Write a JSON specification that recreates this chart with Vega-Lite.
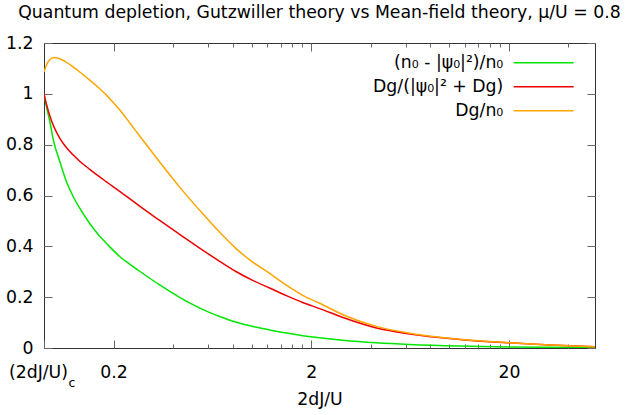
{
  "$schema": "https://vega.github.io/schema/vega-lite/v6.json",
  "width": 551,
  "height": 305,
  "autosize": {"type": "none"},
  "padding": {"left": 44, "top": 43, "right": 33, "bottom": 67},
  "title": {"text": "Quantum depletion, Gutzwiller theory vs Mean-field theory, μ/U = 0.8", "font": "DejaVu Sans", "fontSize": 17.3, "fontWeight": "normal", "anchor": "middle", "offset": 13, "color": "#000"},
  "config": {
    "view": {"stroke": "#333", "strokeWidth": 1},
    "font": "DejaVu Sans",
    "axis": {"domain": false, "grid": false, "labelFont": "DejaVu Sans", "labelFontSize": 17.3, "labelColor": "#000", "titleFont": "DejaVu Sans", "titleFontSize": 17.3, "titleFontWeight": "normal", "titleColor": "#000", "tickColor": "#666", "tickWidth": 1, "labelFlush": false, "labelOverlap": false, "labelBound": false}
  },
  "datasets": {
    "curves": [
      {"x": 0.0889, "y": 1.0, "s": "(n₀ - |ψ₀|²)/n₀"},
      {"x": 0.09178, "y": 0.945, "s": "(n₀ - |ψ₀|²)/n₀"},
      {"x": 0.09502, "y": 0.893, "s": "(n₀ - |ψ₀|²)/n₀"},
      {"x": 0.09956, "y": 0.812, "s": "(n₀ - |ψ₀|²)/n₀"},
      {"x": 0.10676, "y": 0.735, "s": "(n₀ - |ψ₀|²)/n₀"},
      {"x": 0.1145, "y": 0.662, "s": "(n₀ - |ψ₀|²)/n₀"},
      {"x": 0.12466, "y": 0.597, "s": "(n₀ - |ψ₀|²)/n₀"},
      {"x": 0.13478, "y": 0.55, "s": "(n₀ - |ψ₀|²)/n₀"},
      {"x": 0.15145, "y": 0.49, "s": "(n₀ - |ψ₀|²)/n₀"},
      {"x": 0.1701, "y": 0.44, "s": "(n₀ - |ψ₀|²)/n₀"},
      {"x": 0.18392, "y": 0.412, "s": "(n₀ - |ψ₀|²)/n₀"},
      {"x": 0.19861, "y": 0.385, "s": "(n₀ - |ψ₀|²)/n₀"},
      {"x": 0.2147, "y": 0.36, "s": "(n₀ - |ψ₀|²)/n₀"},
      {"x": 0.24124, "y": 0.33, "s": "(n₀ - |ψ₀|²)/n₀"},
      {"x": 0.27102, "y": 0.302, "s": "(n₀ - |ψ₀|²)/n₀"},
      {"x": 0.3421, "y": 0.248, "s": "(n₀ - |ψ₀|²)/n₀"},
      {"x": 0.43182, "y": 0.199, "s": "(n₀ - |ψ₀|²)/n₀"},
      {"x": 0.5665, "y": 0.151, "s": "(n₀ - |ψ₀|²)/n₀"},
      {"x": 0.68831, "y": 0.124, "s": "(n₀ - |ψ₀|²)/n₀"},
      {"x": 0.836, "y": 0.101, "s": "(n₀ - |ψ₀|²)/n₀"},
      {"x": 1.0107, "y": 0.085, "s": "(n₀ - |ψ₀|²)/n₀"},
      {"x": 1.2318, "y": 0.0712, "s": "(n₀ - |ψ₀|²)/n₀"},
      {"x": 1.4967, "y": 0.0588, "s": "(n₀ - |ψ₀|²)/n₀"},
      {"x": 1.8094, "y": 0.0486, "s": "(n₀ - |ψ₀|²)/n₀"},
      {"x": 2.2058, "y": 0.0399, "s": "(n₀ - |ψ₀|²)/n₀"},
      {"x": 2.8929, "y": 0.0304, "s": "(n₀ - |ψ₀|²)/n₀"},
      {"x": 4.2686, "y": 0.0206, "s": "(n₀ - |ψ₀|²)/n₀"},
      {"x": 6.2909, "y": 0.014, "s": "(n₀ - |ψ₀|²)/n₀"},
      {"x": 11.263, "y": 0.0078, "s": "(n₀ - |ψ₀|²)/n₀"},
      {"x": 19.93, "y": 0.0044, "s": "(n₀ - |ψ₀|²)/n₀"},
      {"x": 32.13, "y": 0.0027, "s": "(n₀ - |ψ₀|²)/n₀"},
      {"x": 54.46, "y": 0.0016, "s": "(n₀ - |ψ₀|²)/n₀"},
      {"x": 0.0889, "y": 1.0, "s": "Dg/(|ψ₀|² + Dg)"},
      {"x": 0.09178, "y": 0.955, "s": "Dg/(|ψ₀|² + Dg)"},
      {"x": 0.09502, "y": 0.915, "s": "Dg/(|ψ₀|² + Dg)"},
      {"x": 0.09956, "y": 0.872, "s": "Dg/(|ψ₀|² + Dg)"},
      {"x": 0.10676, "y": 0.826, "s": "Dg/(|ψ₀|² + Dg)"},
      {"x": 0.1145, "y": 0.792, "s": "Dg/(|ψ₀|² + Dg)"},
      {"x": 0.12466, "y": 0.76, "s": "Dg/(|ψ₀|² + Dg)"},
      {"x": 0.13478, "y": 0.735, "s": "Dg/(|ψ₀|² + Dg)"},
      {"x": 0.15145, "y": 0.703, "s": "Dg/(|ψ₀|² + Dg)"},
      {"x": 0.1701, "y": 0.673, "s": "Dg/(|ψ₀|² + Dg)"},
      {"x": 0.18392, "y": 0.654, "s": "Dg/(|ψ₀|² + Dg)"},
      {"x": 0.19861, "y": 0.635, "s": "Dg/(|ψ₀|² + Dg)"},
      {"x": 0.2147, "y": 0.616, "s": "Dg/(|ψ₀|² + Dg)"},
      {"x": 0.24124, "y": 0.588, "s": "Dg/(|ψ₀|² + Dg)"},
      {"x": 0.27102, "y": 0.558, "s": "Dg/(|ψ₀|² + Dg)"},
      {"x": 0.3421, "y": 0.502, "s": "Dg/(|ψ₀|² + Dg)"},
      {"x": 0.43182, "y": 0.447, "s": "Dg/(|ψ₀|² + Dg)"},
      {"x": 0.5665, "y": 0.384, "s": "Dg/(|ψ₀|² + Dg)"},
      {"x": 0.68831, "y": 0.341, "s": "Dg/(|ψ₀|² + Dg)"},
      {"x": 0.836, "y": 0.3, "s": "Dg/(|ψ₀|² + Dg)"},
      {"x": 1.0107, "y": 0.266, "s": "Dg/(|ψ₀|² + Dg)"},
      {"x": 1.2318, "y": 0.236, "s": "Dg/(|ψ₀|² + Dg)"},
      {"x": 1.4967, "y": 0.206, "s": "Dg/(|ψ₀|² + Dg)"},
      {"x": 1.8094, "y": 0.179, "s": "Dg/(|ψ₀|² + Dg)"},
      {"x": 2.2058, "y": 0.155, "s": "Dg/(|ψ₀|² + Dg)"},
      {"x": 2.8929, "y": 0.12, "s": "Dg/(|ψ₀|² + Dg)"},
      {"x": 4.2686, "y": 0.079, "s": "Dg/(|ψ₀|² + Dg)"},
      {"x": 6.2909, "y": 0.0555, "s": "Dg/(|ψ₀|² + Dg)"},
      {"x": 11.263, "y": 0.0336, "s": "Dg/(|ψ₀|² + Dg)"},
      {"x": 19.93, "y": 0.0204, "s": "Dg/(|ψ₀|² + Dg)"},
      {"x": 32.13, "y": 0.0118, "s": "Dg/(|ψ₀|² + Dg)"},
      {"x": 54.46, "y": 0.0051, "s": "Dg/(|ψ₀|² + Dg)"},
      {"x": 0.0889, "y": 1.086, "s": "Dg/n₀"},
      {"x": 0.09178, "y": 1.116, "s": "Dg/n₀"},
      {"x": 0.09502, "y": 1.134, "s": "Dg/n₀"},
      {"x": 0.09956, "y": 1.143, "s": "Dg/n₀"},
      {"x": 0.10676, "y": 1.138, "s": "Dg/n₀"},
      {"x": 0.1145, "y": 1.126, "s": "Dg/n₀"},
      {"x": 0.12466, "y": 1.106, "s": "Dg/n₀"},
      {"x": 0.13478, "y": 1.086, "s": "Dg/n₀"},
      {"x": 0.15145, "y": 1.054, "s": "Dg/n₀"},
      {"x": 0.1701, "y": 1.02, "s": "Dg/n₀"},
      {"x": 0.18392, "y": 0.995, "s": "Dg/n₀"},
      {"x": 0.19861, "y": 0.967, "s": "Dg/n₀"},
      {"x": 0.2147, "y": 0.937, "s": "Dg/n₀"},
      {"x": 0.24124, "y": 0.886, "s": "Dg/n₀"},
      {"x": 0.27102, "y": 0.834, "s": "Dg/n₀"},
      {"x": 0.3421, "y": 0.732, "s": "Dg/n₀"},
      {"x": 0.43182, "y": 0.633, "s": "Dg/n₀"},
      {"x": 0.5665, "y": 0.527, "s": "Dg/n₀"},
      {"x": 0.68831, "y": 0.455, "s": "Dg/n₀"},
      {"x": 0.836, "y": 0.39, "s": "Dg/n₀"},
      {"x": 1.0107, "y": 0.338, "s": "Dg/n₀"},
      {"x": 1.2318, "y": 0.294, "s": "Dg/n₀"},
      {"x": 1.4967, "y": 0.247, "s": "Dg/n₀"},
      {"x": 1.8094, "y": 0.207, "s": "Dg/n₀"},
      {"x": 2.2058, "y": 0.176, "s": "Dg/n₀"},
      {"x": 2.8929, "y": 0.131, "s": "Dg/n₀"},
      {"x": 4.2686, "y": 0.085, "s": "Dg/n₀"},
      {"x": 6.2909, "y": 0.058, "s": "Dg/n₀"},
      {"x": 11.263, "y": 0.034, "s": "Dg/n₀"},
      {"x": 19.93, "y": 0.0208, "s": "Dg/n₀"},
      {"x": 32.13, "y": 0.0118, "s": "Dg/n₀"},
      {"x": 54.46, "y": 0.0051, "s": "Dg/n₀"}
    ],
    "sub": [{"x": 0.0889, "t": "c"}]
  },
  "layer": [
    {
      "data": {"name": "curves"},
      "mark": {"type": "line", "strokeWidth": 1.5, "interpolate": "monotone", "clip": true},
      "encoding": {
        "x": {"field": "x", "type": "quantitative",
              "scale": {"type": "log", "domain": [0.0889, 54.5], "nice": false},
              "axis": {"orient": "bottom", "title": "2dJ/U", "titlePadding": 6,
                       "values": [0.0889, 0.2, 0.4, 0.6, 0.8, 1, 1.2, 1.4, 1.6, 1.8, 2, 4, 6, 8, 10, 12, 14, 16, 18, 20, 40],
                       "labelExpr": "datum.value < 0.1 ? '(2dJ/U)' : datum.value == 0.2 ? '0.2' : datum.value == 2 ? '2' : datum.value == 20 ? '20' : ''",
                       "tickSize": {"condition": {"test": "datum.value < 0.1 || datum.value == 0.2 || datum.value == 2 || datum.value == 20", "value": -8}, "value": -4},
                       "labelOffset": {"condition": {"test": "datum.value < 0.1", "value": -6}, "value": 0},
                       "labelPadding": 23}},
        "y": {"field": "y", "type": "quantitative",
              "scale": {"domain": [0, 1.2], "nice": false},
              "axis": {"orient": "left", "title": null, "values": [0, 0.2, 0.4, 0.6, 0.8, 1, 1.2], "format": "~g", "tickSize": -8, "labelPadding": 19}},
        "color": {"field": "s", "type": "nominal",
                  "scale": {"domain": ["(n₀ - |ψ₀|²)/n₀", "Dg/(|ψ₀|² + Dg)", "Dg/n₀"], "range": ["#00e600", "#f00000", "#ffa500"]},
                  "legend": {"title": null, "orient": "none", "legendX": 491, "legendY": 11, "padding": 0,
                             "symbolType": "M-4,0H4", "symbolSize": 225, "symbolStrokeWidth": 1.5,
                             "rowPadding": 6, "labelAlign": "right", "labelOffset": -49, "labelLimit": 0,
                             "labelFont": "DejaVu Sans", "labelFontSize": 17.3, "labelColor": "#000"}}
      }
    },
    {
      "data": {"name": "sub"},
      "mark": {"type": "text", "font": "DejaVu Sans", "fontSize": 12.5, "dx": 28, "dy": 35, "align": "center", "baseline": "middle", "color": "#000", "clip": false},
      "encoding": {
        "x": {"field": "x", "type": "quantitative",
              "axis": {"orient": "top", "title": null, "labels": false,
                       "values": [0.2, 0.4, 0.6, 0.8, 1, 1.2, 1.4, 1.6, 1.8, 2, 4, 6, 8, 10, 12, 14, 16, 18, 20, 40],
                       "tickSize": {"condition": {"test": "datum.value == 0.2 || datum.value == 2 || datum.value == 20", "value": -8}, "value": -4}}},
        "y": {"datum": 0, "type": "quantitative",
              "axis": {"orient": "right", "title": null, "labels": false, "values": [0, 0.2, 0.4, 0.6, 0.8, 1, 1.2], "tickSize": -8}},
        "text": {"field": "t"}
      }
    }
  ],
  "resolve": {"axis": {"x": "independent", "y": "independent"}}
}
